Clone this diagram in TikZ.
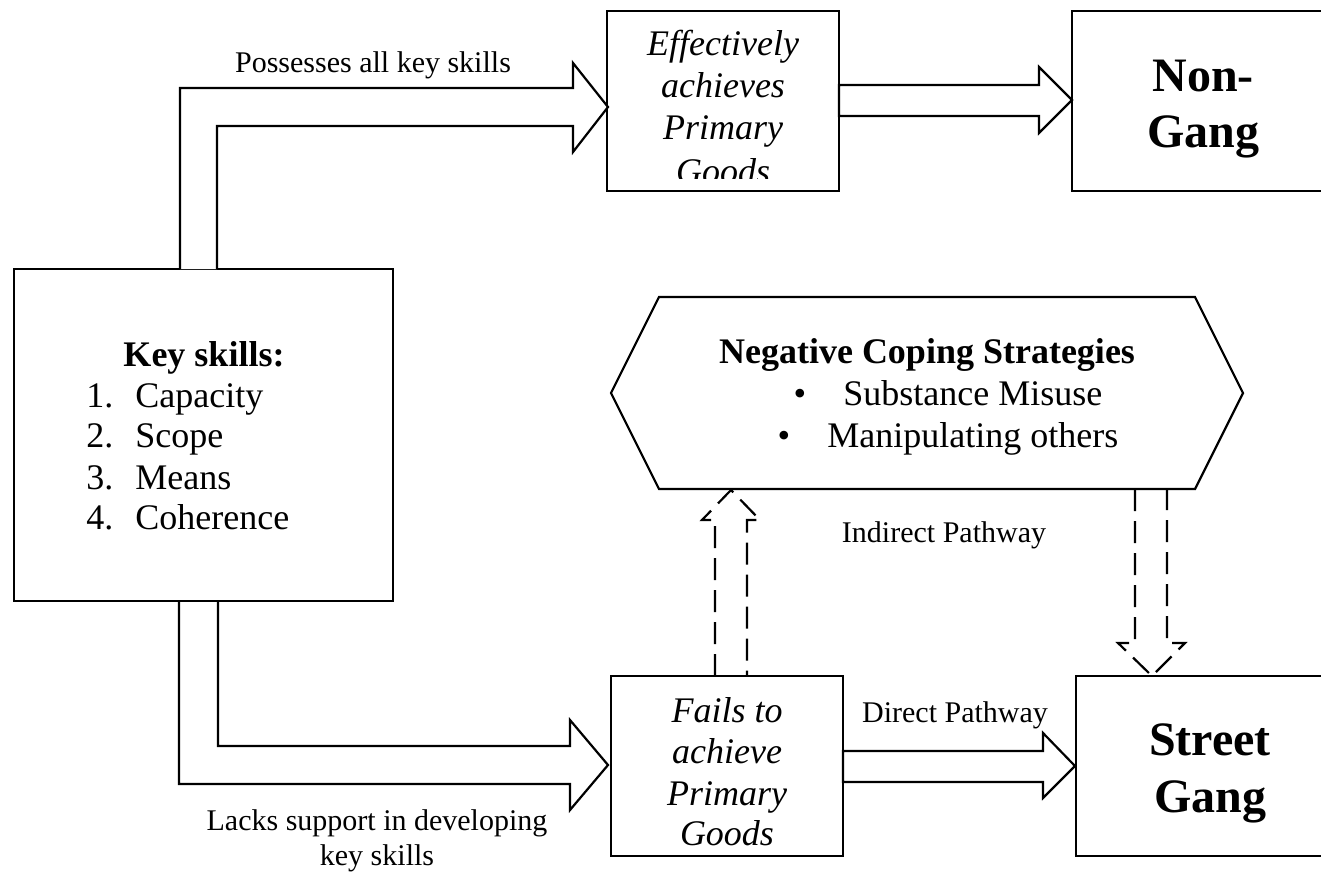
\documentclass[tikz,border=0pt]{standalone}
\usepackage{fontspec}
\setmainfont{Liberation Serif}
\newcommand\fbody{\fontsize{18pt}{21pt}\selectfont}
\newcommand\flab{\fontsize{15pt}{18pt}\selectfont}
\newcommand\fbig{\fontsize{24pt}{28pt}\selectfont}
\tikzset{
  box/.style={draw, rectangle, line width=1.1pt, inner sep=0pt},
  blk/.style={draw, line width=1.1pt, line join=miter, fill=white},
  dsh/.style={draw, line width=1.1pt, dash pattern=on 11pt off 5pt},
  txt/.style={anchor=base, inner sep=0pt},
  txtl/.style={anchor=base west, inner sep=0pt},
}
\begin{document}
\begin{tikzpicture}[x=0.5pt,y=-0.5pt]
\useasboundingbox (0,0) rectangle (1321,874);
% boxes
\node[box, minimum width=189.5pt, minimum height=166pt] (key) at (203.5,435) {};
\node[box, minimum width=116pt, minimum height=90pt] (eff) at (723,101) {};
\node[box, minimum width=131pt, minimum height=90pt] (non) at (1203,101) {};
\node[box, minimum width=116pt, minimum height=90pt] (fails) at (727,766) {};
\node[box, minimum width=134pt, minimum height=90pt] (street) at (1210,766) {};
% hexagon
\coordinate (hex) at (927,393);
\draw[line width=1.1pt, line join=miter] (611,393) -- (659,297) -- (1195,297) -- (1243,393) -- (1195,489) -- (659,489) -- cycle;
% block arrows
\draw[blk] (180,269) |- (573,88) -- (573,63) -- (608,107) -- (573,152) -- (573,126) -| (217,269);
\draw[blk] (839,85) -- (1039,85) -- (1039,67) -- (1072,100) -- (1039,133) -- (1039,116) -- (839,116) -- cycle;
\draw[blk] (218,602) |- (570,746) -- (570,720) -- (608,765) -- (570,810) -- (570,784) -| (179,602);
\draw[blk] (843,751) -- (1043,751) -- (1043,733) -- (1075,766) -- (1043,798) -- (1043,782) -- (843,782) -- cycle;
% dashed block arrows
\draw[dsh] (715,676) -- (715,520) -- (702,520) -- (731,490) -- (760,520) -- (747,520) -- (747,676);
\draw[dsh] (1135,489) -- (1135,643) -- (1118,643) -- (1152,676) -- (1185,643) -- (1167,643) -- (1167,489);
% key skills text
\node[txt] (k0) at (204,366) {\fbody\bfseries Key skills:};
\node[txtl] (k1n) at (86,407) {\fbody 1.};
\node[txtl] (k1) at (135,407) {\fbody Capacity};
\node[txtl] (k2n) at (86,447) {\fbody 2.};
\node[txtl] (k2) at (135,447) {\fbody Scope};
\node[txtl] (k3n) at (86,489) {\fbody 3.};
\node[txtl] (k3) at (135,489) {\fbody Means};
\node[txtl] (k4n) at (86,529) {\fbody 4.};
\node[txtl] (k4) at (135,529) {\fbody Coherence};
% effectively text
\node[txt] (e1) at (723,55) {\fbody\itshape Effectively};
\node[txt] (e2) at (723,97) {\fbody\itshape achieves};
\node[txt] (e3) at (723,139) {\fbody\itshape Primary};
\begin{scope}
\clip (607,11) rectangle (839,178);
\node[txt] (e4) at (723,183) {\fbody\itshape Goods};
\end{scope}
% fails text
\node[txt] (f1) at (727,722) {\fbody\itshape Fails to};
\node[txt] (f2) at (727,763) {\fbody\itshape achieve};
\node[txt] (f3) at (727,805) {\fbody\itshape Primary};
\node[txt] (f4) at (727,845) {\fbody\itshape Goods};
% outcome texts
\node[txt] (n1) at (1203,91) {\fbig\bfseries Non-};
\node[txt] (n2) at (1203,147) {\fbig\bfseries Gang};
\node[txt] (s1) at (1210,755) {\fbig\bfseries Street};
\node[txt] (s2) at (1210,812) {\fbig\bfseries Gang};
% hexagon text
\node[txt] (h0) at (927,363) {\fbody\bfseries Negative Coping Strategies};
\node[txt] (h1b) at (800,405) {\fbody\textbullet};
\node[txtl] (h1) at (843,405) {\fbody Substance Misuse};
\node[txt] (h2b) at (784,447) {\fbody\textbullet};
\node[txtl] (h2) at (827,447) {\fbody Manipulating others};
% labels
\node[txt] (l1) at (373,72) {\flab Possesses all key skills};
\node[txt] (l2) at (377,830) {\flab Lacks support in developing};
\node[txt] (l3) at (377,865) {\flab key skills};
\node[txt] (l4) at (955,722) {\flab Direct Pathway};
\node[txt] (l5) at (944,542) {\flab Indirect Pathway};
\end{tikzpicture}
\end{document}
